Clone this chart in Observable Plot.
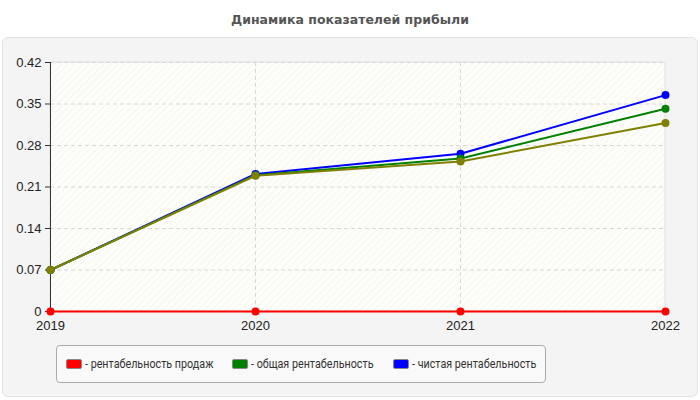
<!DOCTYPE html>
<html>
<head>
<meta charset="utf-8">
<script src="https://cdn.jsdelivr.net/npm/d3@7"></script>
<script src="https://cdn.jsdelivr.net/npm/@observablehq/plot@0.6"></script>
<style>
  html, body { margin: 0; padding: 0; background: #ffffff; }
  #root { position: relative; width: 700px; height: 400px; overflow: hidden; }
  #title { position: absolute; left: 0; top: 12px; width: 700px; text-align: center;
    font: bold 12.5px "DejaVu Sans", sans-serif; color: #555; }
  #panel { position: absolute; left: 2px; top: 37px; width: 694px; height: 358px;
    background: #f4f4f4; border: 1px solid #e4e4e4; border-radius: 6px; }
  #chart { position: absolute; left: 0; top: 40px; }
  #legend { position: absolute; left: 56px; top: 345px; width: 490px; height: 38px;
    box-sizing: border-box; border: 1px solid #aaa; border-radius: 4px; background: #f9f9f9;
    font: 12.5px "Roboto", sans-serif; color: #333; }
  .item { position: absolute; top: 10px; display: flex; align-items: center; white-space: nowrap; }
  .sw { width: 14px; height: 8px; border: 1px solid #888; border-radius: 2px; margin-right: 3px; }
  .tx { display: inline-block; transform: scaleX(0.86); transform-origin: left center; }
</style>
</head>
<body>
<div id="root">
  <div id="title">Динамика показателей прибыли</div>
  <div id="panel"></div>
  <div id="chart"></div>
  <div id="legend"></div>
</div>
<script>
const years = [2019, 2020, 2021, 2022];
const salesProfitability = [0, 0, 0, 0];
const totalProfitability = [0.07, 0.23, 0.258, 0.342];
const netProfitability = [0.07, 0.232, 0.266, 0.365];
const otherProfitability = [0.07, 0.229, 0.253, 0.318];
const yTicks = [0, 0.07, 0.14, 0.21, 0.28, 0.35, 0.42];

const seriesNames = ["рентабельность продаж", "общая рентабельность", "чистая рентабельность", "прочее"];
const seriesColors = ["#ff0000", "#008000", "#0000ff", "#808000"];
const seriesValues = [salesProfitability, totalProfitability, netProfitability, otherProfitability];
const legendNames = seriesNames.slice(0, 3);

// draw order: blue, green, olive, red on top
const drawOrder = [2, 1, 3, 0];
const rows = [];
drawOrder.forEach(s => years.forEach((yr, i) => rows.push({year: yr, value: seriesValues[s][i], series: seriesNames[s], color: seriesColors[s]})));

const hatch = (index, scales, values, dims) => {
  const ns = "http://www.w3.org/2000/svg";
  const g = document.createElementNS(ns, "g");
  const defs = document.createElementNS(ns, "defs");
  defs.innerHTML = '<pattern id="hatch" width="5" height="5" patternUnits="userSpaceOnUse" patternTransform="rotate(45)">' +
    '<rect width="5" height="5" fill="#fdfdfa"/><line x1="0" y1="0" x2="0" y2="5" stroke="#f1f1ee" stroke-width="1.2"/></pattern>';
  g.appendChild(defs);
  const r = document.createElementNS(ns, "rect");
  r.setAttribute("x", dims.marginLeft);
  r.setAttribute("y", dims.marginTop);
  r.setAttribute("width", dims.width - dims.marginLeft - dims.marginRight);
  r.setAttribute("height", dims.height - dims.marginTop - dims.marginBottom);
  r.setAttribute("fill", "url(#hatch)");
  r.setAttribute("stroke", "#e0e0e0");
  g.appendChild(r);
  return g;
};

const chart = Plot.plot({
  width: 700,
  height: 300,
  marginLeft: 50,
  marginRight: 35,
  marginTop: 22,
  marginBottom: 29,
  style: {background: "transparent", fontFamily: "'Liberation Sans', Arial, sans-serif", fontSize: "12px", color: "#222"},
  x: {type: "linear", domain: [2019, 2022], label: null},
  y: {domain: [0, 0.42], label: null},
  marks: [
    hatch,
    Plot.gridY(yTicks, {stroke: "#d8d8d8", strokeOpacity: 1, strokeDasharray: "4,3"}),
    Plot.gridX(years.slice(1, 3), {stroke: "#d8d8d8", strokeOpacity: 1, strokeDasharray: "4,3"}),
    Plot.axisY({ticks: yTicks, label: null, tickFormat: d => d === 0 ? "0" : d3.format(".2f")(d), tickSize: 5, tickPadding: 4, fontSize: 13, stroke: "#333"}),
    Plot.ruleX([2019], {stroke: "#333", strokeWidth: 1}),
    Plot.axisX({ticks: years, label: null, tickFormat: d3.format("d"), tickSize: 0, tickPadding: 9, fontSize: 13}),
    Plot.line(rows, {x: "year", y: "value", z: "series", stroke: "color", strokeWidth: 2}),
    Plot.dot(rows, {x: "year", y: "value", fill: "color", r: 4})
  ]
});
document.getElementById("chart").appendChild(chart);

const legend = document.getElementById("legend");
const lefts = [9, 175, 336];
legendNames.forEach((name, i) => {
  const it = document.createElement("div");
  it.className = "item";
  it.style.left = lefts[i] + "px";
  const sw = document.createElement("div");
  sw.className = "sw";
  sw.style.background = seriesColors[i];
  const tx = document.createElement("span");
  tx.className = "tx";
  tx.textContent = "- " + name;
  it.appendChild(sw);
  it.appendChild(tx);
  legend.appendChild(it);
});
</script>
</body>
</html>
